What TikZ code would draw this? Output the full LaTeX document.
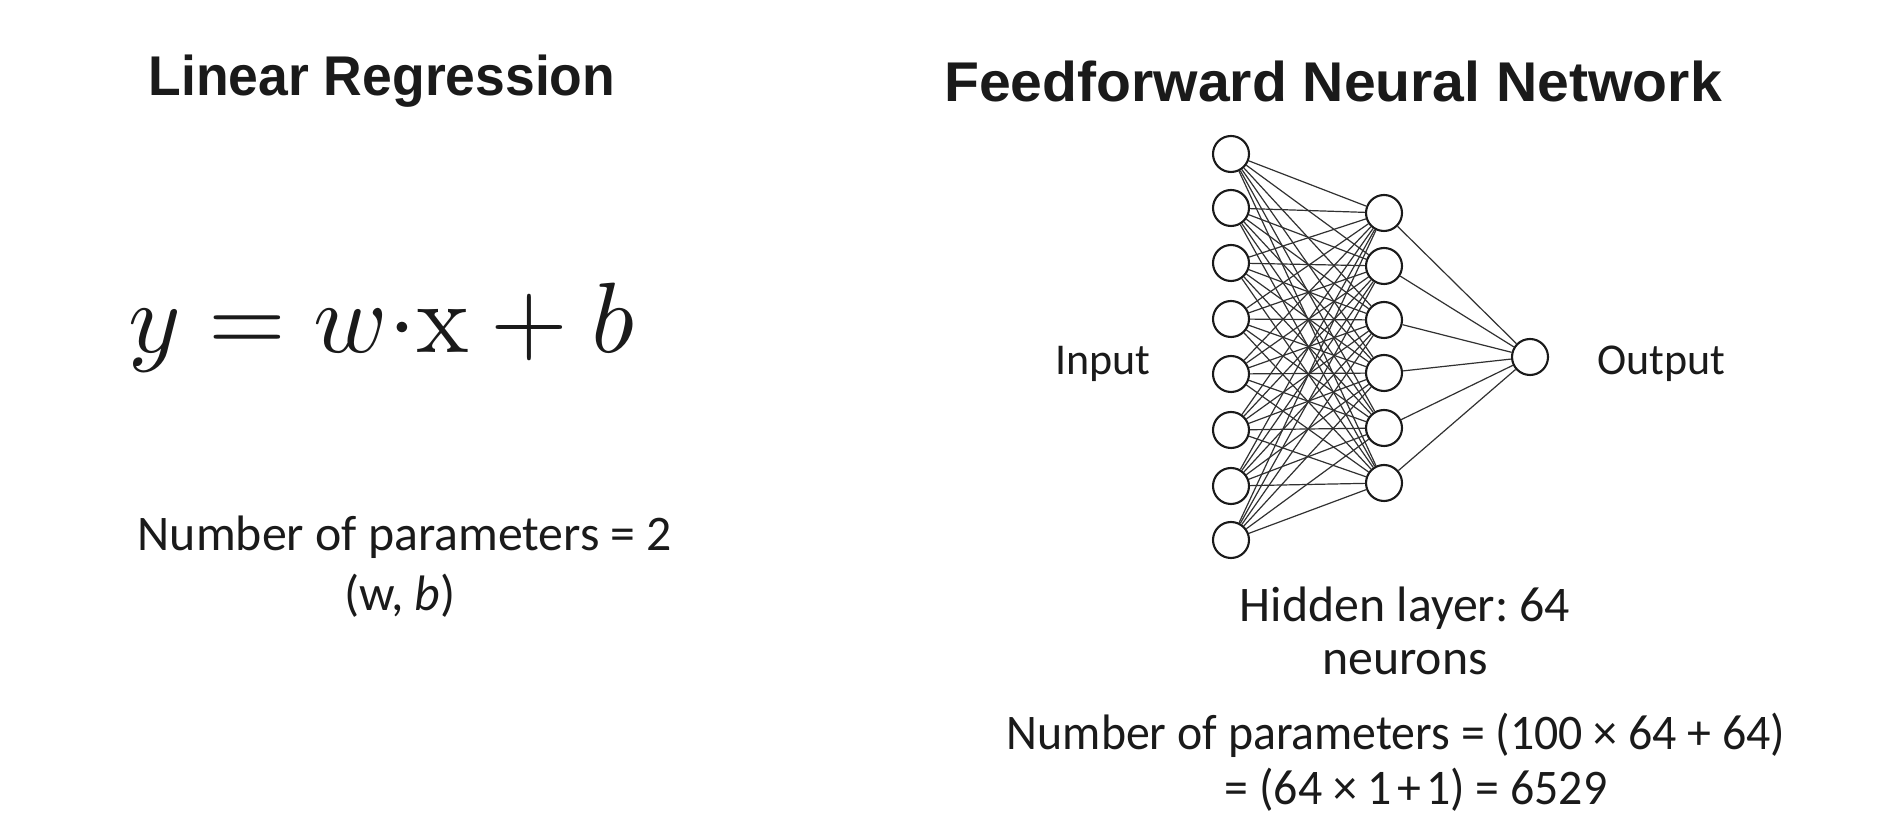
\documentclass[tikz,border=0pt]{standalone}
\usepackage{graphicx}
\usepackage[no-math]{fontspec}
\setmainfont{Carlito}
\newfontfamily\titlefont{Liberation Sans}
\newcommand\ts{\hspace{0.11em}}
\definecolor{ink}{HTML}{1A1A1A}
\frenchspacing
\begin{document}
\begin{tikzpicture}[x=0.5pt,y=-0.5pt,
  neuron/.style={circle,draw=ink,line width=1.05pt,fill=white,minimum size=18pt,inner sep=0pt},
  edge/.style={draw=ink!90,line width=0.6pt},
  titletext/.style={text=ink,font=\titlefont\bfseries\fontsize{28}{32}\selectfont},
  bodytext/.style={text=ink,font=\fontsize{24.9}{30}\selectfont,align=center},
  labeltext/.style={text=ink,font=\fontsize{22}{26}\selectfont}]
\useasboundingbox[fill=white] (0,0) rectangle (1900,838);

% titles
\node[titletext] (t1) at (382,81) {\scalebox{0.955}[1]{Linear Regression}};
\node[titletext] (t2) at (1333,81) {\scalebox{1.02}[1]{Feedforward Neural Network}};

% equation
\node[text=ink] (eq) at (381,328) {\scalebox{5.0}{$y = w{\cdot}\mathrm{x} + b$}};

% left params
\node[bodytext] (p1) at (405,537) {Number of parameters = 2};
\node[bodytext] (p1b) at (400,596) {(w, \textit{b})};

% network nodes
\foreach \i/\y in {1/154,2/208,3/263,4/319,5/374,6/430,7/486,8/540}
  \node[neuron] (in\i) at (1231,\y) {};
\foreach \j/\y in {1/213,2/266,3/320,4/373,5/428,6/483}
  \node[neuron] (h\j) at (1384,\y) {};
\node[neuron] (out) at (1530,357) {};

\foreach \i in {1,...,8}
  \foreach \j in {1,...,6}
    \draw[edge] (in\i) -- (h\j);
\foreach \j in {1,...,6}
  \draw[edge] (h\j) -- (out);

% labels
\node[labeltext] (lin) at (1103,364) {Input};
\node[labeltext] (lout) at (1661,364) {Output};
\node[bodytext] (hid1) at (1405,608) {Hidden layer: 64};
\node[bodytext] (hid2) at (1405,663) {neurons};
\node[bodytext] (p2) at (1396,735) {\scalebox{0.96}[1]{Number of parameters = (100 × 64 + 64)}};
\node[bodytext] (p2b) at (1416,790) {\scalebox{0.96}[1]{= (64 × 1\ts+\ts1) = 6529}};
\end{tikzpicture}
\end{document}
